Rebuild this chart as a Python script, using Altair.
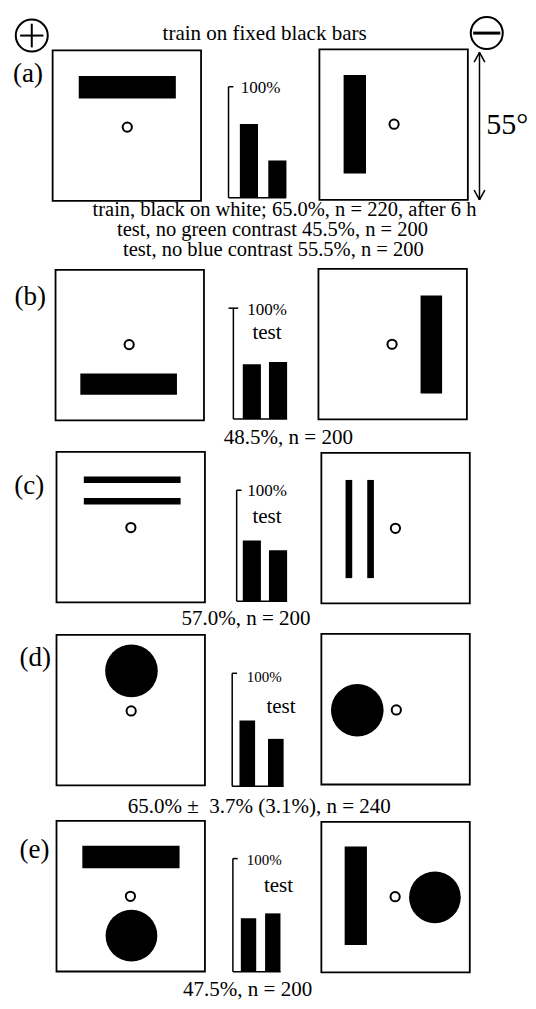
import altair as alt
import pandas as pd

# ---------------- values ----------------
panel_labels = ["(a)", "(b)", "(c)", "(d)", "(e)"]
pct_first = [66.5, 49.5, 54.7, 58.2, 47.2]     # left bar of each small chart (% choices)
pct_second = [33.5, 51.5, 45.9, 41.9, 51.6]    # right bar
caption_lines = [
    ["train, black on white; 65.0%, n = 220, after 6 h",
     "test, no green contrast 45.5%, n = 200",
     "test, no blue contrast 55.5%, n = 200"],
    ["48.5%, n = 200"],
    ["57.0%, n = 200"],
    ["65.0% \u00b1 \u00a03.7% (3.1%), n = 240"],
    ["47.5%, n = 200"],
]
chart_notes = ["", "test", "test", "test", "test"]
axis_top_label = "100%"
header_text = "train on fixed black bars"
angle_text = "55\u00b0"

# ---------------- layout (reference pixel space 536 x 1009) ----------------
FIG_W, FIG_H = 536, 1009
W, H = 520, 993
SX, SY = W / FIG_W, H / FIG_H
BOX = 153
FONT = "Liberation Serif"

left_box = [(46, 43), (49, 266), (50, 451), (50, 637), (50, 826)]
right_box = [(321, 42), (320, 265), (323, 452), (323, 636), (323, 827)]

# stimulus shapes in box fractions: rect (x0, y0, x1, y1) / disk (cx, cy, r)
stim_left = [
    [("rect", .176, .170, .830, .320)],
    [("rect", .167, .688, .818, .830)],
    [("rect", .184, .163, .836, .207), ("rect", .184, .307, .836, .350)],
    [("disk", .505, .239, .176)],
    [("rect", .174, .165, .829, .314), ("disk", .505, .762, .173)],
]
stim_right = [
    [("rect", .163, .170, .314, .824)],
    [("rect", .688, .178, .833, .828)],
    [("rect", .163, .180, .208, .832), ("rect", .309, .180, .354, .832)],
    [("disk", .242, .507, .176)],
    [("rect", .157, .163, .307, .817), ("disk", .765, .501, .173)],
]
fix_left = [(.503, .51), (.496, .497), (.501, .503), (.503, .505), (.498, .501)]
fix_right = [(.503, .497), (.496, .501), (.499, .501), (.505, .505), (.497, .497)]

# small bar charts: axis x, bar1 (l, r), bar2 (l, r), 100% level y, zero level y
bar_layout = [
    (227.3, (239.0, 258.0), (268.3, 286.7), 80.0, 192.7),
    (232.3, (242.0, 260.7), (269.0, 287.7), 305.0, 417.7),
    (235.7, (242.0, 260.7), (269.0, 287.7), 490.0, 602.7),
    (231.1, (238.6, 254.7), (268.0, 284.1), 676.0, 790.7),
    (231.8, (240.0, 255.7), (265.0, 281.0), 864.3, 979.3),
]
label_pos = [(20.5, 75), (23, 302), (22, 494), (28, 668.5), (27.4, 864)]
top_label_pos = [(240, 86, 17), (246.7, 311.7, 17), (246.7, 496, 17), (246.2, 685, 15), (246, 871, 15)]
note_pos = [(0, 0), (267, 336.7), (267, 523.3), (281.4, 716.7), (278.8, 898.3)]
caption_pos = [[(285, 211.0), (272.6, 231.5), (273.5, 252.5)],
               [(289, 442.7)], [(245.3, 626.7)], [(259, 818.3)], [(247, 1004.3)]]
caption_size = [20.5, 21, 21, 21, 21]

XS = alt.Scale(domain=[0, FIG_W], range=[0, W])
YS = alt.Scale(domain=[0, FIG_H], range=[0, H])


def xq(f):
    return alt.X(f, type="quantitative", scale=XS, axis=None)


def yq(f):
    return alt.Y(f, type="quantitative", scale=YS, axis=None)


# ---------------- build tables ----------------
boxes, blacks, disks, rings, rules = [], [], [], [], []
for i in range(5):
    for (bx, by), shapes, (fx, fy) in ((left_box[i], stim_left[i], fix_left[i]),
                                       (right_box[i], stim_right[i], fix_right[i])):
        boxes.append(dict(x=bx, x2=bx + BOX, y=by, y2=by + BOX))
        for s in shapes:
            if s[0] == "rect":
                blacks.append(dict(x=bx + s[1] * BOX, x2=bx + s[3] * BOX,
                                   y=by + s[2] * BOX, y2=by + s[4] * BOX))
            else:
                d = 2 * s[3] * BOX * (SX + SY) / 2
                disks.append(dict(x=bx + s[1] * BOX, y=by + s[2] * BOX, s=d * d))
        rings.append(dict(x=bx + fx * BOX, y=by + fy * BOX, s=85, w=2))
    ax, b1, b2, top, bot = bar_layout[i]
    rules.append(dict(x=ax, x2=ax, y=top, y2=bot, w=1.5))
    rules.append(dict(x=ax, x2=b2[1], y=bot, y2=bot, w=1.5))
    rules.append(dict(x=ax - (5 if i == 1 else 0), x2=ax + 5, y=top, y2=top, w=1.5))

# header symbols
rings.append(dict(x=24.5, y=28, s=32 * 32, w=2))
rings.append(dict(x=493.5, y=25.5, s=32 * 32, w=2))
rules += [dict(x=12.5, x2=36.5, y=28, y2=28, w=2),
          dict(x=24.5, x2=24.5, y=16, y2=40, w=2),
          dict(x=479.5, x2=507.5, y=25.5, y2=25.5, w=3)]
# 55 degree double arrow
rules += [dict(x=486, x2=486, y=45, y2=195, w=1.5),
          dict(x=486, x2=480.5, y=45, y2=55, w=1.5),
          dict(x=486, x2=491.5, y=45, y2=55, w=1.5),
          dict(x=486, x2=480.5, y=195, y2=185, w=1.5),
          dict(x=486, x2=491.5, y=195, y2=185, w=1.5)]

texts_c, texts_l = [], []
texts_c.append(dict(x=264.5, y=33, t=header_text, f=21))
texts_c.append(dict(x=514.5, y=128, t=angle_text, f=30))
for i in range(5):
    texts_c.append(dict(x=label_pos[i][0], y=label_pos[i][1], t=panel_labels[i], f=27))
    tx, ty, tf = top_label_pos[i]
    texts_l.append(dict(x=tx, y=ty, t=axis_top_label, f=tf))
    if chart_notes[i]:
        texts_c.append(dict(x=note_pos[i][0], y=note_pos[i][1], t=chart_notes[i], f=21))
    for line, (cx, cy) in zip(caption_lines[i], caption_pos[i]):
        texts_c.append(dict(x=cx, y=cy, t=line, f=caption_size[i]))

layers = []
layers.append(alt.Chart(pd.DataFrame(boxes)).mark_rect(fill="white", stroke="black", strokeWidth=1.8)
              .encode(x=xq("x"), x2="x2", y=yq("y"), y2="y2"))
layers.append(alt.Chart(pd.DataFrame(blacks)).mark_rect(color="black")
              .encode(x=xq("x"), x2="x2", y=yq("y"), y2="y2"))
layers.append(alt.Chart(pd.DataFrame(disks)).mark_circle(color="black", opacity=1)
              .encode(x=xq("x"), y=yq("y"), size=alt.Size("s:Q", scale=None)))
layers.append(alt.Chart(pd.DataFrame(rings)).mark_point(shape="circle", filled=False, color="black", opacity=1)
              .encode(x=xq("x"), y=yq("y"), size=alt.Size("s:Q", scale=None),
                      strokeWidth=alt.StrokeWidth("w:Q", scale=None)))
layers.append(alt.Chart(pd.DataFrame(rules)).mark_rule(color="black", strokeCap="butt")
              .encode(x=xq("x"), x2="x2", y=yq("y"), y2="y2",
                      strokeWidth=alt.StrokeWidth("w:Q", scale=None)))

# bars, each small chart through its own percentage scale
for i in range(5):
    ax, b1, b2, top, bot = bar_layout[i]
    step = b2[0] - b1[0]
    bw = ((b1[1] - b1[0]) + (b2[1] - b2[0])) / 2
    df = pd.DataFrame({"slot": ["first", "second"], "pct": [pct_first[i], pct_second[i]]})
    layers.append(
        alt.Chart(df).mark_bar(color="black").encode(
            x=alt.X("slot:N", axis=None,
                    scale=alt.Scale(type="band", domain=["first", "second"],
                                    range=[b1[0] * SX, (b1[0] + step + bw) * SX],
                                    paddingInner=1 - bw / step, paddingOuter=0)),
            y=alt.Y("pct:Q", axis=None,
                    scale=alt.Scale(domain=[0, 100], range=[bot * SY, top * SY])),
        )
    )

layers.append(alt.Chart(pd.DataFrame(texts_c)).mark_text(font=FONT, align="center", baseline="alphabetic", color="black")
              .encode(x=xq("x"), y=yq("y"), text="t:N", size=alt.Size("f:Q", scale=None)))
layers.append(alt.Chart(pd.DataFrame(texts_l)).mark_text(font=FONT, align="left", baseline="alphabetic", color="black")
              .encode(x=xq("x"), y=yq("y"), text="t:N", size=alt.Size("f:Q", scale=None)))

chart = (
    alt.layer(*layers)
    .resolve_scale(x="independent", y="independent")
    .properties(width=W, height=H, padding=0, autosize=alt.AutoSizeParams(type="none"),
                background="white")
    .configure_view(stroke=None)
)

chart.save("out.html", embed_options={"renderer": "svg", "actions": False})
